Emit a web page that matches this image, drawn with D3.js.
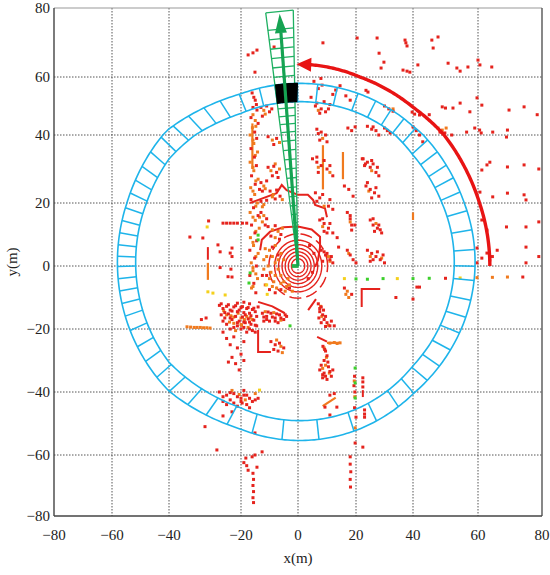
<!DOCTYPE html>
<html><head><meta charset="utf-8">
<script src="https://cdn.jsdelivr.net/npm/d3@7"></script>
<style>body{margin:0;background:#fff}svg{display:block}</style>
</head><body><svg id="c" width="550" height="575"></svg>
<script>
// ---------- data ----------
const ticks=[-80,-60,-40,-20,0,20,40,60,80];
const tickLabels=["\u221280","\u221260","\u221240","\u221220","0","20","40","60","80"];
const ringCenter=[0.5,1.2];
const ringOuter=[58.6,56.6];
const ringInner=[52.2,50.3];
const ringDividers=[-83.4,-71.3,-62.9,-54.1,-47.3,-41.5,-35.6,-29.5,-23.4,-18,-12.3,-5.9,-1.3,4.1,10.5,16.8,22.9,27.6,31.9,36.7,41.3,46.6,51.7,57.1,63.2,69.8,77.1,83.8,90.7,98.5,103.9,111,116.7,121.7,126.8,132.2,137.6,143.3,148.5,153.2,157.4,162.2,166.5,170.5,174.4,178.1,181.4,185.3,189.3,193.4,197.6,202.5,208.3,213.8,220.2,226.4,233,239,245.4,253.5,264];
const blackCell=[90.7,98.5];
const beamAngles=[91.2,98.2];
const beamRange=79.4;
const beamBins=[2.75,5.5,8.25,11,13.75,16.5,19.25,22,24.75,27.5,30.25,33,35.75,38.5,41.25,44,46.75,49.5,52.25,55,57.75,60.5,63.25,66,68.75,71.5,74.25];
const beamArrow={angle:94.7,length:78.6};
const sweepArc={radius:63.7,from:0,to:90.5};
const centerRings=[2.3,3.4,4.5,5.6,6.8,8.2];
const centerDashedRing=10.2;

const redPts=[[8.6,69.9],[20.4,71.3],[27.4,71.3],[37.2,70.7],[37.5,69.9],[37.9,69],[45.8,70.7],[47.7,71.6],[46.2,68.4],[28.1,66.9],[29.8,64.3],[28.8,62.6],[36.5,62],[37.9,61.7],[38.9,61.4],[41.5,63.5],[50.8,64],[53.5,62.6],[54.5,61.7],[56.9,62.9],[60,64.9],[60.6,63.5],[64.3,62.9],[-14.4,67.8],[-15.8,67],[-17.5,66.4],[-15.1,61.4],[-8.4,68.7],[8.3,57.2],[7.9,59.5],[5.5,58.5],[7,56],
[-16.1,54.5],[-15.5,53],[-15,52],[-14.6,50.5],[-15.8,49.5],[-14.4,48.6],[23.5,55.4],[24.2,54.8],[12,54],[13,55.5],[14.5,57],[16.5,53.5],[18,52],
[49,49.7],[50,49.3],[52.3,49.3],[54.5,51],[57.5,48],[69.7,48.6],[74.4,49.7],[59.7,52.8],[61.2,50.3],[48.3,41],[49.8,40.7],[51.9,40],[56.5,41],[60.5,41.7],[64.6,41],[69.2,41.7],[68.9,39.4],[59,42.4],[61,40.7],[61.2,29.7],[62.8,31.2],[63.7,32],[69.2,30.6],[74.4,31.2],[60.6,23.2],[64.6,21.8],[69.2,22.9],[74.4,22.4],[75,20.9],[61.2,14.6],[62.8,11.4],[68.9,12.4],[75,12.4],[59.7,5.7],[62.8,4.1],[63.7,1.9],[59.7,1],[61.2,2.5],[75,6],[75,1],[66,5],[64.5,3],[78.5,47],[79,30],[79,14],[79,3],
[39.7,47.9],[40.5,47.2],[42,46.9],[40,42.8],[41,41.5],[42,40],[26,42.8],[27,41.5],[28,40],[30,42.4],[31,41.5],[32,40.7],[30,50],[31.5,49],[33,48.2],[24,43],[25.5,42],[22.5,33],[24,32],[25,30.5],[26,31.5],[27,29],[28,28],[23.5,25],[25,24],[26.5,23],[28,22],[25,14.6],[26,13],[27.5,12],[29,10.5],[26.5,11],[24,5],[25.5,4],[27,3],[28.5,2],[30,1],[26,2],[17,17],[18,15],[19.6,13],[18.5,11.4],[17,5],[18,3.5],[19,2],[20,1],[16,25],[17.5,24],[19,22],[7.5,14.6],[9,13.5],[10.5,12],[12,10.5],[9,11],[8,5],[9.5,3.5],[11,2],[12,1],[10,4],[6,23],[7.5,21.5],[10.5,19],[12,18],[5,33],[6.5,32],[8,31],[10,30],[12,28],[7,29],[6,50],[8,49],[9.5,48],[11,50.5],[6.5,42],[8,41],[9.5,40],[7,40.5],[4.5,53],[17.2,42.4],[18.5,41.5],[19.7,42.8],[22.2,33],[23.3,31.5],[18,16],[18.5,13],[45,47],[43,38],[13.5,9],[14,6],
[6.5,51],[9,51.5],[10.5,49],[7.5,47.5],[7.5,38.5],[10,38],[6.5,33.5],[9,32.5],[11,31],[6.5,20.5],[8.5,22.5],[11,21],[8.5,15],[11,13.5],[10,10.5],[9,4.5],[11.5,3],[8.5,1.5],
[23,31],[25.5,32.5],[27.5,30.5],[24,26],[27,24.5],[25.5,21.5],[26,15],[28,13],[28.5,11.5],[25,1.5],[27.5,4.5],[29.5,3.5],
[-16.5,46],[-14,44],[-15.2,41],[-14.5,39],[-16.5,36],[-15.3,33.5],[-14.6,31],[-16.3,28],[-15,25.5],[-13.5,24],[-16.5,21],[-15.6,18.5],[-14,16],[-16.3,13],[-15.1,10.5],[-14.5,8],[-16.9,5],[-15.2,2.5],[-14.6,0],[-16.9,-3],[-15.5,-5.5],[-14.8,-8.5],
[-13,49.5],[-11,50],[-10,48],[-9.2,49],[-12.5,46.5],[-10.5,30.5],[-8.5,30.8],[-7.5,29],[-9,28],[-7,27.5],[-9.8,23.5],[-7.5,23.8],[-6.3,22],[-8,21.2],[-13,26],[-11,26.5],[-12.5,23.5],[-13,20.5],[-11,20.8],[-13,17],[-11,15],[-11.5,13],[-10.5,12.5],[-8,12.8],[-6,10],[-9.5,9.5],[-6.5,8.5],[-10.5,39.5],[-7.5,39],[-8.5,37.2],
[-25,13.6],[-24,13.6],[-23,13.6],[-22,13.6],[-21,13.6],[-19.5,13.6],[-18,13.6],[-34.2,9.2],[-30.6,8.9],[-29,14.3],[-26.4,6.7],[-25.8,4.5],[-22.5,5.7],[-22.5,3],[-23,4.1],[-22.8,-1],[-22.5,-3.5],[-23.6,-3.4],[-25.8,-0.5],
[-9,6],[-7,3.5],[-11,-3],[-6,-7.5],[-3,-7],[4,6.5],[5.5,4],[5,-2],[3.5,-4],[-12.5,-3],[-10,-7.5],[-8,-8.5],
[-26,-12.5],[-24,-12.8],[-22,-13],[-20,-13.2],[-18,-13.5],[-16,-13.8],[-14,-13],[-25,-13.5],[-23,-14],[-21,-14.5],[-19,-14.8],[-17,-15],[-15,-14.5],[-25.5,-15.5],[-24.5,-16.5],[-23.5,-15.2],[-22.5,-17],[-21.5,-16],[-20.5,-17.5],[-19.5,-16.2],[-18.5,-18],[-17.5,-16.8],[-16.5,-18.5],[-15.5,-17.2],[-14.5,-19],[-24,-18.5],[-22,-19.5],[-20,-20],[-18,-21],[-16,-20.5],[-21,-11.8],[-19,-11.5],[-17,-12],
[-25.5,-12],[-23.5,-12.3],[-21.5,-12.6],[-19.5,-12.9],[-17.5,-13.2],[-15.5,-13.4],[-24.5,-14.8],[-22.5,-14.3],[-20.5,-14],[-18.5,-15.5],[-16.5,-15.8],[-14.5,-16],[-25,-17.5],[-23,-16.5],[-21,-18],[-19,-17.8],[-17,-17.8],[-15,-18.8],[-23,-20],[-21,-19],[-19,-19.5],[-17,-20],[-15,-21],
[-12.5,-15],[-11,-16],[-9.5,-15],[-8,-16.5],[-6.5,-15.5],[-5,-17],[-4,-16],[-10,-17.5],[-7,-18],[-12,-17.5],[-12,-16.2],[-10.5,-14.6],[-9,-16.2],[-7.5,-15.2],[-6,-16.5],[-4.5,-15.5],[-11,-17],[-8,-17.5],
[-9.5,-24],[-8,-25],[-6.5,-24.5],[-5,-26],[-7,-27],[-8.5,-26.5],
[-25,-21],[-24,-23],[-23,-25],[-22,-22.5],[-21,-26],[-20,-28],[-19,-24],[-22.5,-29],[-21.5,-31],[-20.5,-33],[-23.5,-30.5],[-19,-30],
[-31,-17],[-29.7,-16.5],
[-26,-40],[-24,-41],[-22,-40.5],[-20,-42],[-18,-41],[-16,-43],[-14,-42],[-25,-43],[-21,-44.5],[-17,-45],[-23,-42.5],[-19,-39.5],[-25,-41.5],[-23,-40.2],[-21,-41.5],[-19,-41],[-17,-42],[-15,-42.5],[-24,-44],[-22,-43.5],[-20,-43],[-18,-44],
[-25,-47.6],[-22.5,-46.3],[-30,-51],[-19.6,-43.5],[-15.1,-53],[-26.7,-58.4],
[-18.3,-61],[-16.1,-60.6],[-15.1,-60],[-12.6,-59],[-17.5,-65],[-15.8,-66],[-15.6,-68],[-15.8,-70],[-15.6,-72],[-15.8,-74],[-15.6,-75.6],[-18,-63.5],[-19,-62.5],[-14.4,-64],
[7,-12],[8,-13],[7.5,-14.5],[8.5,-15.5],[7.2,-16.5],[9,-17],[10,-18],[11.5,-17.5],[12.5,-19],[9.5,-19.2],[8.6,-25.5],[9.5,-27],[10,-28.5],[9,-30],[8,-31.5],[7.5,-33],[9,-34],[10.5,-32],[11.5,-35],[8.5,-35.5],[10,-36],[12,-33],
[7.5,-13.5],[8.8,-14],[9.5,-16],[8,-18],[11,-19],[9.2,-26.5],[10.3,-30.5],[8.5,-34.5],[9.5,-35],[11,-33.5],
[11,-41],[12.5,-40.5],[13.4,-44.8],[9.3,-44.8],[11,-47.3],
[16,-7],[18.5,-9],[34,-10],[40,-10.5],[41.2,-6.7],[42,-6.7],[50,-3.9],[74,-3.5],
[19.5,-35],[19.3,-38],[19.6,-40],[22.4,-35.5],[22.4,-36.8],[22.4,-38.4],[19.5,-45],[20,-48],[23,-45.7],[23,-47],[23,-48],[19.7,-56.2],[22.4,-57.5],[18,-60.6],[18,-63],[18.2,-65.5],[18,-68],[18.1,-70.5]];

const orangePts=[[47.7,42.4],[49,41.7],[50.2,42.4],
[-15,45],[-16,42.5],[-16.8,40],[-15.5,37.5],[-14.2,35],[-16.8,32],[-15.5,29.5],[-14,27],[-16.6,24.5],[-15.2,22.5],[-14.3,20],[-16.8,17],[-15,14.5],[-13.6,12],[-16.7,9],[-15.6,6.5],[-14,4],[-16.4,1],[-15.8,-1.5],[-14.2,-4],[-16.3,-7],
[-15.8,47],[-14.8,43],[-15.8,38.5],[-15,34],[-15.8,30.5],[-14.8,26.5],[-15.8,23.5],[-14.8,19],[-15.8,15.5],[-14.8,11],[-15.8,7.5],[-14.8,3],[-15.8,-0.5],[-14.8,-2.5],[-15.8,-6.5],
[-12,48.5],[-11.5,47.2],[-9.5,29.5],[-6.5,30],[-8,31.5],[-8.7,22.5],[-5.5,21],[-9,21.8],[-12,25],[-11.5,24.2],[-12,19.5],[-12.5,18.8],[-12,16],[-12.5,14],[-13.5,15.5],[-9,11.5],[-7,11],[-8,9],[-5.5,12],[-9,38.5],[-6.5,37.8],
[-10,5],[-9,3],[-8,1],[-7,-1],[-6,-3],[-5,-5],[-9.5,-2],[-8.5,-5],[-7.5,-7],[-4,-6.5],[-10.5,0],[-6,4],[-5,2],[-3.5,-4],[-12,2],[-11.5,-6],
[-11,3],[-10,-4],[-9,-6.5],[-8,-3],[-7,2],[-6,-5.5],[-4.5,-8],[-12,-1],[-3,-6],[-2,-8],[-11.5,5.5],[-8,6.5],
[25.5,29.5],[24.5,23.5],[27,13.5],[25,3],[18,14],[17.5,4],[8.5,12.5],[10.5,3],[11,1.5],[9,19],[7,30.5],[11,29],[7,48.5],[8.5,39],[29,2.5],[33,49],
[-24.8,-14.2],[-22.8,-15.8],[-20.8,-15],[-18.8,-17],[-16.8,-16.5],[-19.8,-18.8],[-23.2,-17.8],[-17.5,-19.5],[-21.5,-20.5],
[-24,-15.5],[-22,-16.2],[-20,-16.5],[-18,-16],[-16,-17],[-22,-18.2],[-20,-18.6],
[-11.5,-14.5],[-8.5,-14.8],[-6,-17.2],[-7.5,-23.5],[-6,-25.5],[-5.5,-27.5],
[-35,-19.3],[-34,-19.4],[-33,-19.5],[-32.2,-19.5],[-31.3,-19.5],[-30.4,-19.6],[-29.5,-19.6],[-28.6,-19.7],
[-22.5,-39.5],[-20.5,-40.8],[-18.5,-42.5],[-15,-40.5],
[7.8,-12.8],[8.2,-16],[10.5,-18.8],[9,-26],[9.8,-29],[8.5,-32.5],[10.8,-34],[9.5,-31.5],[11,-24.5],[12.5,-24.3],[13.5,-24.6],[14.5,-24.4],
[17,-8],[17.5,-10],[16.5,-9],[59.7,-3.7],[64.5,-3.6],[69.2,-3.5],
[19.4,-36.5],[19.6,-41.5],[19.7,-51.4]];

const yellowPts=[[-27.8,-8.6],[-24.4,-9.2],[-29.2,-8.2],[-13.5,-39.4],[-11,-6],[-10.8,-9],[-29.4,12.4],[16,-4],[54.5,-3.8],[34.5,-4]];
const greenPts=[[-14,9.8],[-14,8.3],[-16.8,-2.2],[-17.2,-5.4],[19.7,-32.4],[19.7,-37.1],[19.7,-41.9],[-2.8,-19],[24,-4.2],[29.5,-4],[40,-4],[45,-3.9],[20,-4.1]];

const redLines=[
 [[-16.8,20],[-12,21.5],[-7.5,22.9],[-5.7,25.3],[-4,23.8],[0,22.4],[3.4,22.4],[5.2,20.9],[5.9,19.4],[9.3,18.3],[10,15.5]],
 [[-13.3,5],[-12.7,8.3],[-9.8,10.9],[-5.1,12.3],[0,12.5],[4.7,11.6],[7.6,9.3],[7.6,6],[6.9,1.9],[5.9,-0.3]],
 [[-14,-11.4],[-9,-12.8],[-4.6,-15]],
 [[22,-13],[22,-7.3],[28.5,-7.3]],
 [[6.6,-22.5],[10,-24]],
 [[3.5,-14],[6.2,-10.5]],
 [[-14,-20.3],[-14,-27.3],[-9.5,-27.3]],
 [[22.4,-39.4],[22.4,-41.6]],
 [[-29.2,6],[-29.2,2]]];
const orangeLines=[
 [[8.6,37],[8.6,24]],
 [[15.5,35],[15.5,27]],
 [[40,17],[40,14.6]],
 [[10,-24.4],[14.5,-24.4]],
 [[8.5,-44.5],[13,-41.8]],
 [[-29.2,1],[-29.2,-4.4]],
 [[-16,44],[-16,30]]];

// ---------- drawing ----------
const svg=d3.select("#c");
const x=d3.scaleLinear().domain(ticks).range([54,112,169,241,298,356,413,478,542]);
const y=d3.scaleLinear().domain(ticks).range([516,455,392,329,266,203,135,77,8]);
const rad=a=>a*Math.PI/180;
const P=(a,r,c=[0,0],ry=r)=>[c[0]+r*Math.cos(rad(a)),c[1]+ry*Math.sin(rad(a))];
const line=d3.line().x(d=>x(d[0])).y(d=>y(d[1]));
const X0=x(-80),X1=x(80),Y0=y(80),Y1=y(-80);

// grid
const g=svg.append("g");
ticks.slice(1,-1).forEach(t=>{
  g.append("line").attr("x1",x(t)).attr("x2",x(t)).attr("y1",Y0).attr("y2",Y1)
   .attr("stroke","#555").attr("stroke-width",1).attr("stroke-dasharray","1.5,1.5");
  g.append("line").attr("y1",y(t)).attr("y2",y(t)).attr("x1",X0).attr("x2",X1)
   .attr("stroke","#555").attr("stroke-width",1).attr("stroke-dasharray","1.5,1.5");
});

// center rings
const cg=svg.append("g");
const circ=(r)=>d3.range(0,361,3).map(a=>P(a,r));
centerRings.forEach(r=>cg.append("path").attr("d",line(circ(r))).attr("fill","none").attr("stroke","#e5231d").attr("stroke-width",1.4));
cg.append("path").attr("d",line(circ(centerDashedRing))).attr("fill","none").attr("stroke","#e5231d").attr("stroke-width",1.5).attr("stroke-dasharray","12,5");

// lines
redLines.forEach(l=>svg.append("path").attr("d",line(l)).attr("fill","none").attr("stroke","#e5231d").attr("stroke-width",2));
orangeLines.forEach(l=>svg.append("path").attr("d",line(l)).attr("fill","none").attr("stroke","#f07a1e").attr("stroke-width",2.2));

// points
function pts(arr,col){
  svg.append("g").selectAll("rect").data(arr).join("rect")
   .attr("x",d=>x(d[0])-1.5).attr("y",d=>y(d[1])-1.5).attr("width",3).attr("height",3).attr("fill",col);
}
pts(orangePts,"#f07a1e");
pts(redPts,"#e5231d");
pts(yellowPts,"#f4d01c");
pts(greenPts,"#3ccf2c");
svg.append("rect").attr("x",x(-2.2)).attr("y",y(0.6)).attr("width",x(0.2)-x(-2.2)).attr("height",y(-0.6)-y(0.6)).attr("fill","#22b14c");

// ring
const ringCol="#1eb4ea";
const ell=(rr)=>d3.range(0,361,1).map(a=>P(a,rr[0],ringCenter,rr[1]));
svg.append("path").attr("d",line(ell(ringOuter))).attr("fill","none").attr("stroke",ringCol).attr("stroke-width",1.6);
svg.append("path").attr("d",line(ell(ringInner))).attr("fill","none").attr("stroke",ringCol).attr("stroke-width",1.6);
ringDividers.forEach(a=>{
  svg.append("path").attr("d",line([P(a,ringInner[0],ringCenter,ringInner[1]),P(a,ringOuter[0],ringCenter,ringOuter[1])]))
   .attr("stroke",ringCol).attr("stroke-width",1.5);
});

// beam wedge
const beamCol="#1fb062";
const bw=svg.append("g").attr("stroke",beamCol).attr("stroke-width",1.3).attr("fill","none");
bw.append("path").attr("d",line([P(beamAngles[1],beamRange),[0,0],P(beamAngles[0],beamRange)]));
bw.append("path").attr("d",line([P(beamAngles[1],beamRange),P(beamAngles[0],beamRange)]));
beamBins.forEach(r=>bw.append("path").attr("d",line([P(beamAngles[1],r),P(beamAngles[0],r)])));

// black cell (occupied ring cell)
const bc=[...d3.range(blackCell[0],blackCell[1]+0.01,0.5).map(a=>P(a,ringOuter[0],ringCenter,ringOuter[1])),
          ...d3.range(blackCell[1],blackCell[0]-0.01,-0.5).map(a=>P(a,ringInner[0],ringCenter,ringInner[1]))];
svg.append("path").attr("d",line(bc)+"Z").attr("fill","#000").attr("stroke","#000").attr("stroke-width",1.2);

// arrow helper
function head(tip,base,half,col){
  const dx=tip[0]-base[0],dy=tip[1]-base[1],L=Math.hypot(dx,dy),nx=-dy/L,ny=dx/L;
  svg.append("path").attr("d",`M${tip[0]},${tip[1]}L${base[0]+nx*half},${base[1]+ny*half}L${base[0]-nx*half},${base[1]-ny*half}Z`).attr("fill",col);
}
// green arrow
const aTip=P(beamArrow.angle,beamArrow.length), aBase=P(beamArrow.angle,beamArrow.length-5.6);
svg.append("path").attr("d",line([[0,0],aBase])).attr("stroke","#15a352").attr("stroke-width",3.2);
head([x(aTip[0]),y(aTip[1])],[x(aBase[0]),y(aBase[1])],6,"#15a352");

// red sweep arc
const redCol="#e81414";
const arcPts=d3.range(sweepArc.from,sweepArc.to-4.4,0.5).map(a=>P(a,sweepArc.radius));
svg.append("path").attr("d",line(arcPts)).attr("fill","none").attr("stroke",redCol).attr("stroke-width",3.4);
const rb=P(sweepArc.to-4.6,sweepArc.radius), rt=P(sweepArc.to,sweepArc.radius);
head([x(rt[0]),y(rt[1])],[x(rb[0]),y(rb[1])],7,redCol);

// frame
svg.append("line").attr("x1",X0).attr("x2",X1).attr("y1",Y0).attr("y2",Y0).attr("stroke","#999").attr("stroke-width",1);
svg.append("line").attr("x1",X1).attr("x2",X1).attr("y1",Y0).attr("y2",Y1).attr("stroke","#555").attr("stroke-width",1.4);
svg.append("line").attr("x1",X0).attr("x2",X0).attr("y1",Y0).attr("y2",Y1).attr("stroke","#444").attr("stroke-width",1.4);
svg.append("line").attr("x1",X0).attr("x2",X1).attr("y1",Y1).attr("y2",Y1).attr("stroke","#444").attr("stroke-width",1.4);

// labels
const tg=svg.append("g").attr("font-family","Liberation Serif").attr("font-size",15).attr("fill","#222");
ticks.forEach((t,i)=>{
  tg.append("text").attr("x",x(t)).attr("y",540).attr("text-anchor","middle").text(tickLabels[i]);
  tg.append("text").attr("x",50).attr("y",y(t)).attr("dy","0.35em").attr("text-anchor","end").text(tickLabels[i]);
});
tg.append("text").attr("x",x(0)).attr("y",563).attr("text-anchor","middle").text("x(m)");
tg.append("text").attr("transform",`translate(17,${y(0)-4}) rotate(-90)`).attr("text-anchor","middle").text("y(m)");
</script></body></html>
